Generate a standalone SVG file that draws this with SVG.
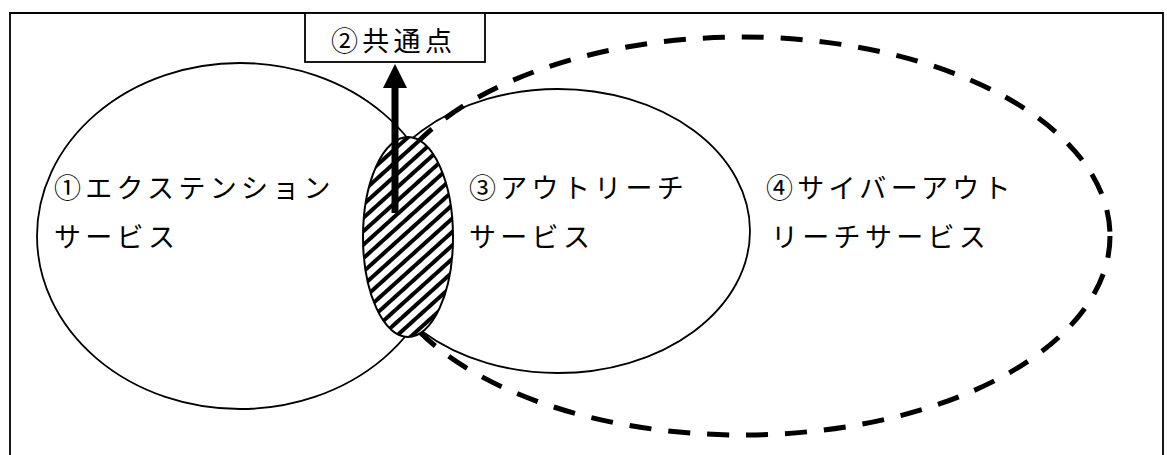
<svg xmlns="http://www.w3.org/2000/svg" width="1167" height="455" viewBox="0 0 1167 455">
<style>
.thin{fill:none;stroke:#000;stroke-width:1.8}
.dash{fill:none;stroke:#000;stroke-width:5;stroke-dasharray:22 17}
.lbl{font-family:"Noto Sans CJK JP","Noto Sans CJK SC",sans-serif;font-size:27px;font-weight:400;letter-spacing:4.3px;fill:#000}
</style>
<defs>
<pattern id="hatch" patternUnits="userSpaceOnUse" width="20" height="10" patternTransform="rotate(-42)">
<line x1="-5" y1="5" x2="25" y2="5" stroke="#000" stroke-width="4"/>
</pattern>
</defs>
<rect width="1167" height="455" fill="#fff"/>
<path d="M10,460 V13 H1163 V460" class="thin" stroke-width="2"/>
<g id="extension">
<ellipse cx="240" cy="236" rx="203" ry="173" class="thin"/>
<text class="lbl" x="54" y="198">①エクステンション</text>
<text class="lbl" x="54" y="247">サービス</text>
</g>
<g id="outreach">
<ellipse cx="558" cy="231" rx="192" ry="142" class="thin"/>
<text class="lbl" x="469" y="198">③アウトリーチ</text>
<text class="lbl" x="469" y="247">サービス</text>
</g>
<g id="cyber">
<ellipse cx="742" cy="236" rx="368" ry="199" class="dash"/>
<text class="lbl" x="766" y="198">④サイバーアウト</text>
<text class="lbl" x="771" y="247">リーチサービス</text>
</g>
<g id="common">
<ellipse cx="408" cy="237" rx="45" ry="100" fill="#fff"/>
<ellipse cx="408" cy="237" rx="45" ry="100" fill="url(#hatch)" stroke="#000" stroke-width="2"/>
</g>
<g id="connectors">
<line x1="395" y1="213" x2="395" y2="86" stroke="#000" stroke-width="7"/>
<polygon points="395,64 383,88 407,88" fill="#000"/>
</g>
<g id="label">
<rect x="305" y="13" width="180" height="49" fill="#fff" stroke="#000" stroke-width="1.8"/>
<text class="lbl" x="331" y="51">②共通点</text>
</g>
</svg>
